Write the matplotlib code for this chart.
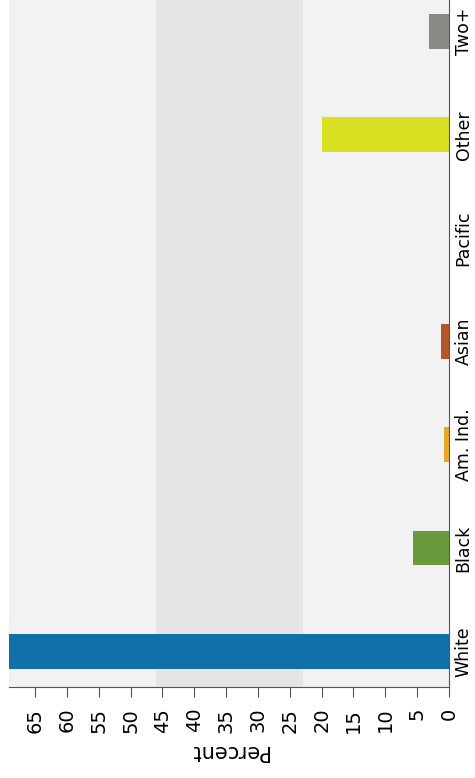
import matplotlib
matplotlib.use('Agg')
import matplotlib.pyplot as plt

categories = ["White", "Black", "Am. Ind.", "Asian", "Pacific", "Other", "Two+"]
percent = [72.0, 5.6, 0.8, 1.3, 0.0, 20.0, 3.2]
colors = ["#1170aa", "#6a9a3c", "#e8a82a", "#b5562a", "#7b4ea3", "#d8e021", "#8a8a86"]
band_low, band_high = 23.0, 46.0
ticks = list(range(0, 70, 5))

fig = plt.figure(figsize=(4.75, 7.78), dpi=100)
ax = fig.add_axes([9 / 475, 91 / 778, 440 / 475, 687 / 778])
ax.set_facecolor('#f2f2f2')
ax.axvspan(band_low, band_high, color='#e5e5e5', zorder=0, lw=0)
ax.barh(range(len(categories)), percent, height=0.335, color=colors, zorder=2)
ax.set_xlim(69.1, 0)
ax.set_ylim(-0.346, 6.305)

for s in ['top', 'left']:
    ax.spines[s].set_visible(False)
for s in ['right', 'bottom']:
    ax.spines[s].set_color('#555555')

ax.yaxis.tick_right()
ax.set_yticks(range(len(categories)))
ax.set_yticklabels(categories, rotation=90, va='center', fontsize=12.5)
ax.tick_params(axis='y', length=0, pad=4)

ax.set_xticks(ticks)
ax.set_xticklabels([str(t) for t in ticks], rotation=90, fontsize=14)
ax.tick_params(axis='x', length=7, pad=8, color='#555555')
ax.set_xlabel('Percent', rotation=180, fontsize=15, labelpad=6)

fig.savefig('out.png', dpi=100)
